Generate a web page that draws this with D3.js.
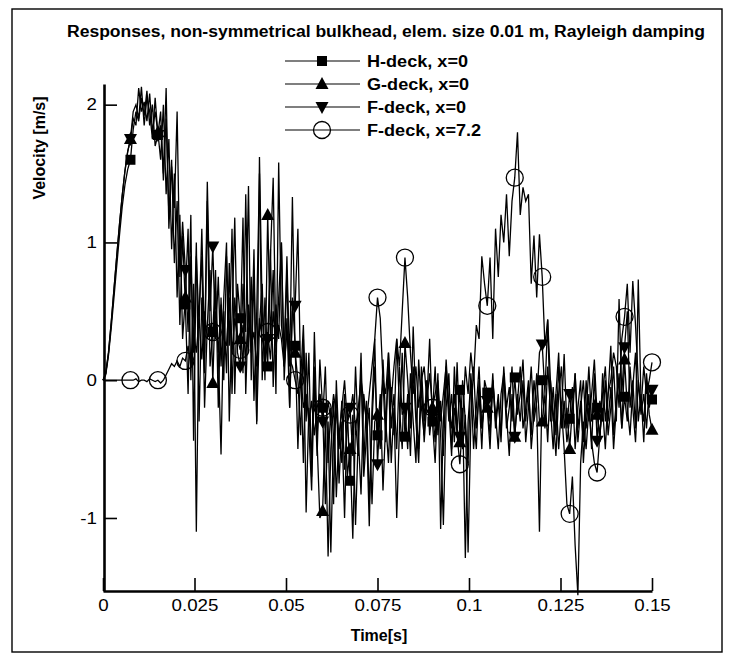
<!DOCTYPE html>
<html>
<head>
<meta charset="utf-8">
<script src="https://cdn.jsdelivr.net/npm/d3@7"></script>
<style>
  html, body { margin: 0; padding: 0; background: #fff; }
  svg { display: block; font-family: "Liberation Sans", Arial, Helvetica, sans-serif; }
</style>
</head>
<body>
<svg id="chart" width="729" height="660"></svg>
<script>
// Sampling interval of the stored responses [s]; a symbol is drawn every 10th sample.
const dt = 0.00075;
const markerEvery = 10;

const xTicks = [0, 0.025, 0.05, 0.075, 0.1, 0.125, 0.15];
const yTicks = [-1, 0, 1, 2];

const seriesNames = ["H-deck, x=0", "G-deck, x=0", "F-deck, x=0", "F-deck, x=7.2"];

// Velocity [m/s] at t = i*dt, i = 0..200
const hDeck = [
  0, 0.04, 0.18, 0.38, 0.6, 0.83, 1.05, 1.26, 1.42, 1.53,
  1.6, 1.82, 1.95, 1.88, 2.05, 1.92, 2.1, 1.85, 2.0, 1.7,
  1.78, 1.95, 1.45, 1.9, 1.2, 1.6, 0.85, 1.3, 0.4, 1.05,
  0.55, -0.1, 0.9, 0.2, 1.0, -0.3, 0.6, 0.05, 1.3, 0.1,
  0.35, 0.8, -0.2, 0.6, 0.0, 0.9, 0.25, 1.1, -0.1, 0.7,
  0.45, 0.05, 1.35, 0.2, 0.75, -0.15, 0.5, 1.5, 0.0, 0.6,
  0.1, 0.95, -0.05, 0.55, 0.3, 1.0, 0.0, 0.45, -0.2, 0.6,
  0.25, -0.5, 0.1, -0.6, 0.2, -0.35, -0.8, 0.0, -0.55, 0.15,
  -0.2, -0.9, -0.3, -1.25, -0.4, -0.1, -0.75, -0.3, -1.0, -0.2,
  -0.73, -0.25, -1.05, -0.4, 0.2, -0.6, -0.15, -0.9, -0.3, 0.1,
  -0.4, -0.1, -0.8, -0.3, 0.05, -0.6, -0.2, -1.0, -0.35, 0.2,
  -0.41, -0.1, -0.55, 0.1, -0.3, -0.6, 0.0, -0.45, -0.15, 0.3,
  -0.3, -0.6, -0.1, -0.4, -1.05, -0.2, 0.05, -0.5, -0.2, -0.35,
  -0.07, -0.5, -0.25, -1.25, -0.3, 0.1, -0.35, -0.1, -0.5, 0.0,
  -0.09, -0.3, 0.05, -0.35, -0.15, -0.4, 0.1, -0.2, -0.05, -0.3,
  0.02, -0.25, -0.1, 0.15, -0.3, -0.05, -0.4, 0.0, -0.2, -1.1,
  0.0, -0.35, 0.1, -0.2, -0.5, -0.1, 0.2, -0.35, -0.15, -0.45,
  -0.28, -0.05, -0.5, -0.2, 0.0, -0.6, -0.25, 0.1, -0.3, -0.15,
  -0.2, -0.45, 0.05, -0.3, -0.1, 0.25, -0.4, -0.15, 0.0, -0.35,
  -0.12, -0.3, 0.1, -0.2, -0.45, 0.0, -0.25, -0.1, -0.35, -0.05,
  -0.14
];

const gDeck = [
  0, 0.05, 0.2, 0.42, 0.66, 0.9, 1.13, 1.34, 1.52, 1.66,
  1.75, 1.9, 1.85, 2.12, 1.95, 2.02, 1.88, 2.08, 1.8, 1.95,
  1.8, 1.6, 2.0, 1.35, 1.75, 0.95, 1.5, 0.6, 1.2, 0.3,
  0.6, 1.1, 0.0, 0.7, -1.1, 0.5, 0.9, -0.2, 0.4, 0.8,
  -0.02, 0.65, 0.2, -0.54, 0.5, 0.05, 0.85, -0.1, 0.6, 0.3,
  0.3, 1.18, -0.1, 0.55, 0.2, 0.95, -0.3, 0.4, 0.7, 0.0,
  1.2, 0.3, 0.8, -0.1, 1.58, 0.4, 0.2, 0.9, 0.1, 1.33,
  0.2, 0.0, -0.4, 0.3, -0.96, -0.2, -0.6, 0.1, -0.45, -1.0,
  -0.95, -0.3, -1.28, -0.5, -0.15, -0.85, -0.35, -0.6, -0.1, -0.7,
  -0.5, -1.15, -0.3, -0.55, 0.1, -0.7, -0.4, -0.2, -0.9, -0.3,
  -0.25, -0.5, 0.15, -0.3, -0.6, -0.05, -0.4, 0.3, -0.2, -0.5,
  0.27, 0.0, -0.35, 0.39, -0.2, -0.5, 0.1, -0.3, 0.0, -0.4,
  -0.2, -0.45, 0.05, -1.08, -0.3, 0.15, -0.2, -0.55, 0.1, -0.35,
  -0.45, 0.0, -0.3, -0.6, 0.05, -0.25, -0.5, 0.0, -0.35, -0.15,
  -0.2, -0.5, 0.0, -0.3, -0.1, -0.45, 0.05, -0.25, -0.55, -0.1,
  -0.41, -0.15, 0.1, -0.35, -0.2, 0.0, -0.5, -0.25, 0.05, -0.3,
  -0.3, -0.1, -0.45, 0.0, -0.25, -0.55, -0.1, 0.1, -0.35, -0.2,
  -0.5, -0.2, 0.05, -0.35, -0.15, -0.45, 0.0, -0.3, -0.1, 0.15,
  -0.25, -0.4, -0.1, 0.1, -0.3, -0.05, -0.5, -0.2, 0.05, -0.35,
  0.15, -0.2, -0.4, -0.05, 0.2, -0.3, -0.1, -0.45, 0.0, -0.25,
  -0.36
];

const fDeck = [
  0, 0.05, 0.2, 0.42, 0.66, 0.9, 1.13, 1.34, 1.52, 1.66,
  1.75, 1.95, 2.0, 1.9, 2.13, 1.85, 2.05, 1.95, 1.75, 2.05,
  1.78, 1.85, 1.5, 2.12, 1.1, 1.55, 1.25, 1.95, 0.75, 1.15,
  0.8, 0.35, 1.2, -0.44, 0.9, 0.4, 1.1, 0.2, 1.44, 0.5,
  0.97, 0.3, 0.75, 0.1, 0.6, 1.0, -0.3, 0.45, 1.18, 0.2,
  0.1, 0.7, 0.35, 1.41, 0.0, 0.8, -0.32, 1.62, 0.5, 0.1,
  0.3, 0.9, 1.47, 0.2, 0.6, 1.0, 0.1, 0.8, -0.2, 0.5,
  0.54, 1.1, 0.0, 0.4, -0.3, 0.2, -0.7, 0.35, -0.4, -0.1,
  -0.3, 0.1, -0.6, -0.2, -0.9, 0.0, -0.5, -0.15, -0.65, -0.3,
  -0.2, -0.55, 0.1, -0.4, -0.83, -0.1, -0.3, -1.06, -0.2, 0.3,
  -0.61, -0.2, 0.0, -0.45, 0.2, -0.35, -0.1, -0.5, 0.1, -0.25,
  -0.2, -0.5, 0.05, -0.3, -0.6, 0.15, -0.2, -0.4, 0.0, -0.3,
  -0.25, 0.1, -0.4, -0.15, -0.55, 0.05, -0.3, -0.1, -0.45, 0.13,
  -0.41, -0.2, -1.29, -0.3, 0.0, -0.5, -0.2, 0.1, -0.35, -0.15,
  -0.15, -0.4, 0.0, -0.25, -0.5, -0.1, 0.05, -0.35, -0.2, 0.1,
  -0.41, -0.1, -0.3, 0.0, -0.45, -0.2, 0.1, -0.3, -0.15, 0.2,
  0.26, -0.1, 0.44, -0.3, -0.05, -0.4, 0.1, -0.25, 0.19, -0.35,
  -0.1, -0.3, 0.05, -0.45, -0.2, 0.0, -0.35, -0.1, -0.5, 0.05,
  -0.44, -0.15, -0.3, 0.0, -0.4, -0.2, 0.1, -0.3, 0.59, -0.1,
  0.24, 0.5, -0.2, 0.0, -0.35, 0.73, -0.15, -0.3, 0.05, -0.2,
  -0.07
];

const fDeck72 = [
  0, 0, 0, 0, 0, 0, 0, 0, 0, 0,
  0, 0.0, 0.01, -0.01, 0.0, 0.0, -0.01, 0.01, 0.0, -0.01,
  0.0, -0.02, 0.0, 0.04, 0.08, 0.12, 0.1, 0.14, 0.1, 0.16,
  0.14, 0.25, 0.1, 0.35, 0.2, 0.45, 0.15, 0.5, 0.3, 0.4,
  0.35, 0.5, 0.2, 0.55, 0.3, 0.25, 0.6, 0.2, 0.45, 0.3,
  0.22, 0.4, 0.15, 0.5, 0.25, 0.35, 0.1, 0.45, 0.3, 0.2,
  0.35, 0.15, 0.5, 0.25, 0.4, 0.3, 0.1, 0.35, 0.15, 0.1,
  0.0, -0.1, 0.05, -0.2, -0.1, -0.3, -0.15, -0.4, -0.2, -0.1,
  -0.2, -0.35, -0.15, -0.3, -0.1, -0.25, -0.4, -0.2, 0.0, -0.3,
  -0.25, -0.1, -0.35, -0.2, 0.0, -0.15, -0.3, -0.1, 0.1, 0.3,
  0.6, 0.45, 0.0, -0.1, 0.2, -0.15, 0.1, 0.3, 0.1, 0.5,
  0.89, 0.6, 0.2, -0.1, 0.1, -0.2, 0.0, 0.1, -0.15, 0.05,
  -0.2, -0.1, 0.0, -0.3, -0.1, 0.1, -0.2, -0.35, -0.1, -0.4,
  -0.61, -0.3, 0.1, -0.1, 0.2, 0.0, 0.4, 0.3, 0.9, 0.7,
  0.54, 0.89, 0.3, 1.1, 0.75, 1.2, 1.0, 1.35, 0.9, 1.3,
  1.47, 1.8, 1.2, 1.4, 1.3, 1.35, 0.7, 1.05, 0.6, 1.06,
  0.75, 0.25, 0.44, 0.0, -0.3, -0.1, -0.5, -0.2, -0.5, -0.9,
  -0.97, -0.7, -1.2, -1.56, -0.6, -0.3, -0.5, -0.2, -0.45, -0.6,
  -0.67, -0.4, -0.2, -0.5, -0.1, 0.0, 0.2, 0.1, -0.2, 0.3,
  0.46, 0.7, 0.2, 0.72, 0.4, 0.0, -0.2, 0.1, -0.1, 0.0,
  0.13
];

const seriesValues = [hDeck, gDeck, fDeck, fDeck72];
const seriesSymbols = ["square", "triUp", "triDown", "circle"];

const svg = d3.select("#chart");

// Page frame
svg.append("rect")
  .attr("x", 12).attr("y", 9).attr("width", 710).attr("height", 643)
  .attr("fill", "none").attr("stroke", "#000").attr("stroke-width", 1.4);

const x = d3.scaleLinear().domain([0, 0.15]).range([103, 652]);
const y = d3.scaleLinear().domain([-1.53, 2.15]).range([591, 84]);

// Title
svg.append("text")
  .attr("x", 67).attr("y", 37)
  .attr("font-size", 16).attr("font-weight", "bold")
  .attr("textLength", 638).attr("lengthAdjust", "spacingAndGlyphs")
  .text("Responses, non-symmetrical bulkhead, elem. size 0.01 m, Rayleigh damping");

// Symbol painter
function drawSymbol(g, kind, cx, cy) {
  if (kind === "square") {
    g.append("rect").attr("x", cx - 5).attr("y", cy - 5).attr("width", 10).attr("height", 10)
      .attr("fill", "#000");
  } else if (kind === "triUp") {
    g.append("path").attr("d", `M${cx},${cy - 7}L${cx + 6.5},${cy + 5}L${cx - 6.5},${cy + 5}Z`)
      .attr("fill", "#000");
  } else if (kind === "triDown") {
    g.append("path").attr("d", `M${cx},${cy + 7}L${cx + 6.5},${cy - 5}L${cx - 6.5},${cy - 5}Z`)
      .attr("fill", "#000");
  } else {
    g.append("circle").attr("cx", cx).attr("cy", cy).attr("r", 8.5)
      .attr("fill", "none").attr("stroke", "#000").attr("stroke-width", 1.3);
  }
}

// Curves and their symbols
const line = d3.line().x(d => x(d.t)).y(d => y(d.v));
const plot = svg.append("g");
seriesValues.forEach((vals, k) => {
  const pts = vals.map((v, i) => ({ t: i * dt, v }));
  const g = plot.append("g");
  g.append("path").datum(pts).attr("d", line)
    .attr("fill", "none").attr("stroke", "#000").attr("stroke-width", 1.3)
    .attr("stroke-linejoin", "miter");
  pts.forEach((p, i) => {
    if (i > 0 && i % markerEvery === 0) drawSymbol(g, seriesSymbols[k], x(p.t), y(p.v));
  });
});

// Axes: major ticks labelled, minor ticks plain, all pointing inward
const xMinor = d3.range(0, 0.1501, 0.005).filter(v => Math.abs(v / 0.025 - Math.round(v / 0.025)) > 1e-6);
const yMinor = d3.range(-1.4, 2.11, 0.2).filter(v => Math.abs(v - Math.round(v)) > 1e-6);

const fmtX = d => String(+d.toFixed(3));

const gx = svg.append("g").attr("transform", "translate(0,591)");
gx.call(d3.axisBottom(x).tickValues(xMinor).tickSizeInner(-7).tickSizeOuter(0).tickFormat(""));
gx.call(d3.axisBottom(x).tickValues(xTicks).tickSizeInner(-13).tickSizeOuter(0).tickFormat(fmtX).tickPadding(20));

const gy = svg.append("g").attr("transform", "translate(104,0)");
gy.call(d3.axisLeft(y).tickValues(yMinor).tickSizeInner(-8).tickSizeOuter(0).tickFormat(""));
gy.call(d3.axisLeft(y).tickValues(yTicks).tickSizeInner(-13).tickSizeOuter(0).tickFormat(d => String(d)).tickPadding(20));

svg.selectAll(".domain").attr("stroke", "#000").attr("stroke-width", 2.6);
svg.selectAll(".tick line").attr("stroke", "#000").attr("stroke-width", 1.6);
svg.selectAll(".tick text")
  .attr("font-family", "'Liberation Sans', Arial, sans-serif")
  .attr("font-size", 16).attr("fill", "#000");
gx.selectAll(".tick text").attr("dy", null).attr("y", 20);
gy.selectAll(".tick text").attr("x", -7);

// Axis titles
svg.append("text")
  .attr("x", 379).attr("y", 641).attr("text-anchor", "middle")
  .attr("font-size", 16).attr("font-weight", "bold")
  .text("Time[s]");
svg.append("text")
  .attr("transform", "translate(45,148) rotate(-90)").attr("text-anchor", "middle")
  .attr("font-size", 16).attr("font-weight", "bold")
  .text("Velocity [m/s]");

// Legend
const legend = svg.append("g");
const legendY = [61, 84, 107, 130];
seriesNames.forEach((name, k) => {
  const row = legend.append("g");
  row.append("line").attr("x1", 285).attr("x2", 360).attr("y1", legendY[k]).attr("y2", legendY[k])
    .attr("stroke", "#000").attr("stroke-width", 1.2);
  drawSymbol(row, seriesSymbols[k], 322, legendY[k]);
  row.append("text").attr("class", "legend-label")
    .attr("x", 367).attr("y", legendY[k]).attr("dy", "0.36em")
    .attr("font-size", 16).attr("font-weight", "bold")
    .text(name);
});

// Widen printed labels slightly to the proportions of the plot's typeface
function widen(sel, k) {
  sel.each(function () {
    const w = this.getComputedTextLength();
    if (w > 0) d3.select(this).attr("textLength", w * k).attr("lengthAdjust", "spacingAndGlyphs");
  });
}
widen(svg.selectAll(".tick text"), 1.17);
widen(svg.selectAll(".legend-label"), 1.13);
</script>
</body>
</html>
